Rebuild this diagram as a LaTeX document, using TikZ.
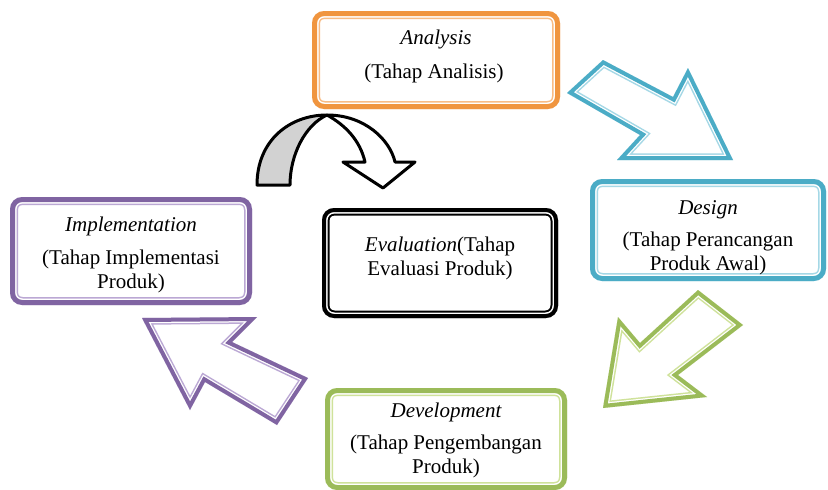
\documentclass[tikz,border=0pt]{standalone}
\usepackage{fontspec}
\setmainfont{Liberation Serif}
\definecolor{cOr}{HTML}{F0953F}\definecolor{lOr}{HTML}{F8BC85}
\definecolor{cBl}{HTML}{4BACC6}\definecolor{lBl}{HTML}{A5D8E6}
\definecolor{cGr}{HTML}{9BBB59}\definecolor{lGr}{HTML}{CFE29A}
\definecolor{cPu}{HTML}{8064A2}\definecolor{lPu}{HTML}{BBA8D4}
\newcommand\dblframe[6]{%
  \begin{scope}
    \clip #6;
    \draw[line width=#5, #2] #6;
    \draw[line width=#4, white] #6;
    \draw[line width=#3, #1] #6;
  \end{scope}}
\begin{document}
\begin{tikzpicture}[x=1pt,y=-1pt,
  lbl/.style={font=\fontsize{21}{24}\selectfont, align=center, inner sep=0pt},
  curv/.style={draw=black, line width=3pt, line join=round}]
\useasboundingbox (0,0) rectangle (828,490);
\fill[white] (0,0) rectangle (828,490);
% boxes
\dblframe{cOr}{lOr}{10}{13}{16}{[rounded corners=12] (312,11) rectangle (560,109)}
\dblframe{cBl}{lBl}{10}{13}{16}{[rounded corners=12] (590,179) rectangle (826,281)}
\dblframe{cGr}{lGr}{10}{13}{16}{[rounded corners=12] (325,388) rectangle (567,490)}
\dblframe{cPu}{lPu}{10}{13}{16}{[rounded corners=12] (10,197) rectangle (252,305)}
\dblframe{black}{black}{8}{11}{15}{[rounded corners=12] (322,208) rectangle (558,318)}
% block arrows
\dblframe{cBl}{lBl}{8}{10.5}{13.5}{(567,93) -- (603,60) -- (673,97) -- (688,68) -- (733,160) -- (617,160) -- (640,135) -- cycle}
\dblframe{cGr}{lGr}{8}{10.5}{13.5}{(698,290) -- (743,325) -- (678,375) -- (707,397) -- (603,408) -- (618,317) -- (640,343) -- cycle}
\dblframe{cPu}{lPu}{8}{10.5}{13.5}{(142,318) -- (257,317) -- (232,342) -- (308,378) -- (277,425) -- (205,382) -- (190,410) -- cycle}
% curved arrow
\filldraw[curv, fill=gray!35] (257,185) .. controls (257,140) and (290,115) .. (327,115)
   .. controls (305,125) and (290,155) .. (290,185) -- cycle;
\filldraw[curv, fill=white] (327,115) .. controls (365,115) and (390,140) .. (395,162)
   -- (415,162) -- (383,188) -- (343,162) -- (365,162)
   .. controls (360,140) and (345,125) .. (327,115) -- cycle;
% texts
\node[lbl] (anT) at (436,39) {\itshape Analysis};
\node[lbl] (anB) at (434,73) {(Tahap Analisis)};
\node[lbl] (deT) at (708,210) {\itshape Design};
\node[lbl] (deB) at (708,253) {(Tahap Perancangan\\Produk Awal)};
\node[lbl] (dvT) at (446,412) {\itshape Development};
\node[lbl] (dvB) at (446,456) {(Tahap Pengembangan\\Produk)};
\node[lbl] (imT) at (131,226) {\itshape Implementation};
\node[lbl] (imB) at (131,271) {(Tahap Implementasi\\Produk)};
\node[lbl] (ev) at (440,258) {{\itshape Evaluation}(Tahap\\Evaluasi Produk)};
\end{tikzpicture}
\end{document}
